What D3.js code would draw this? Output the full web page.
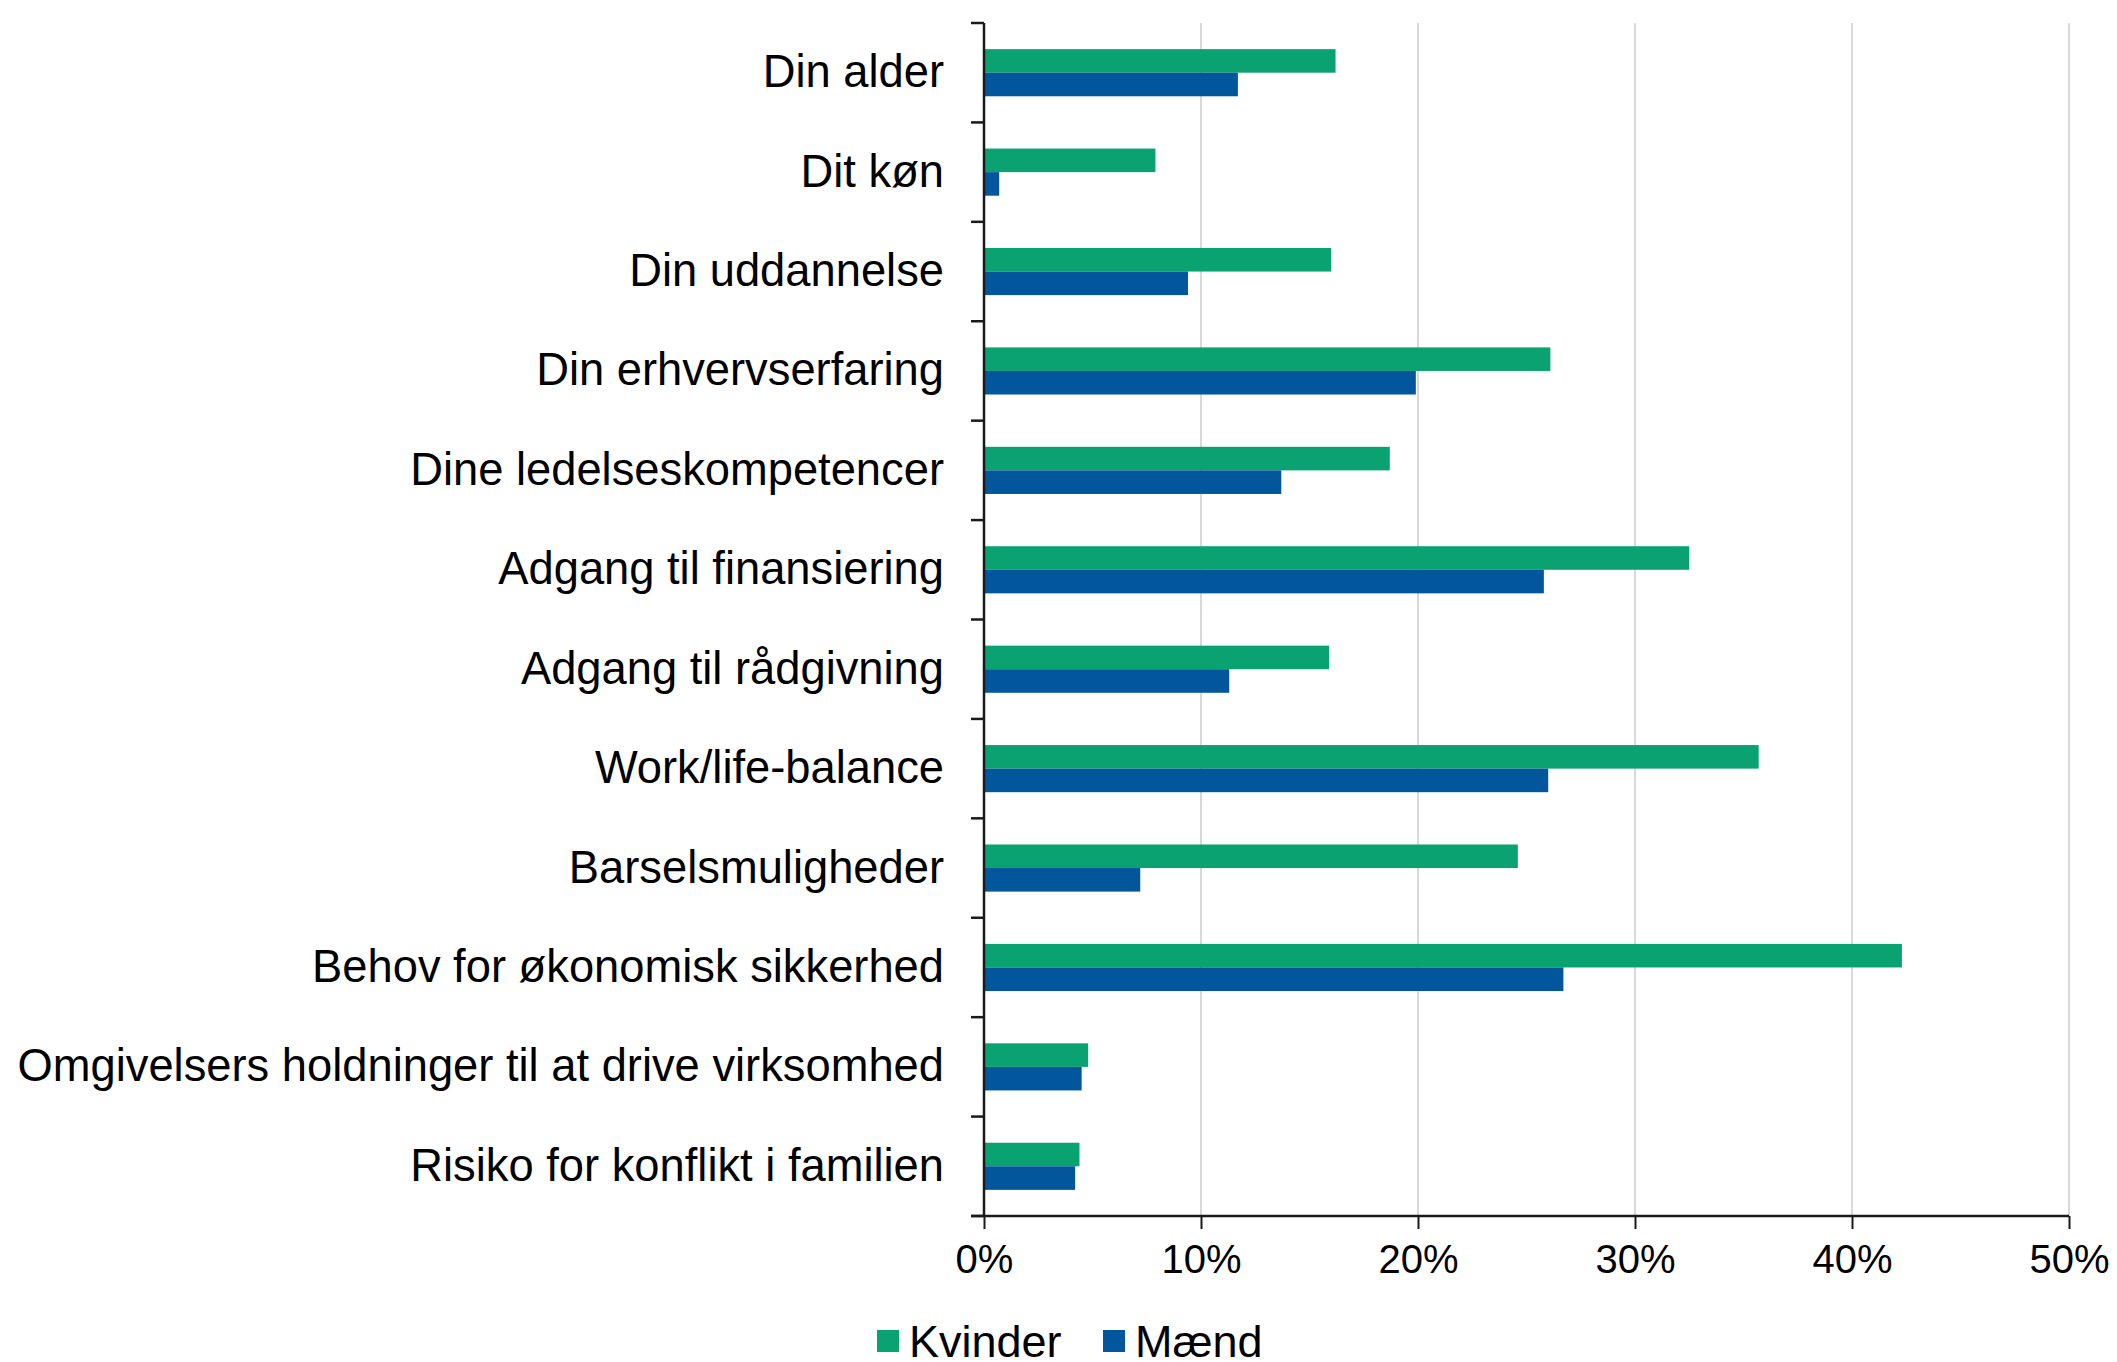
<!DOCTYPE html>
<html>
<head>
<meta charset="utf-8">
<script src="https://cdn.jsdelivr.net/npm/d3@7"></script>
<style>
  body { margin: 0; background: #fff; }
  text { font-family: "Liberation Sans", Arial, sans-serif; fill: #000; }
</style>
</head>
<body>
<div class="chart"></div>
<script>
//--数据--
var categories = [
    "Din alder",
    "Dit køn",
    "Din uddannelse",
    "Din erhvervserfaring",
    "Dine ledelseskompetencer",
    "Adgang til finansiering",
    "Adgang til rådgivning",
    "Work/life-balance",
    "Barselsmuligheder",
    "Behov for økonomisk sikkerhed",
    "Omgivelsers holdninger til at drive virksomhed",
    "Risiko for konflikt i familien"
];
var kvinder = [16.2, 7.9, 16.0, 26.1, 18.7, 32.5, 15.9, 35.7, 24.6, 42.3, 4.8, 4.4];
var maend = [11.7, 0.7, 9.4, 19.9, 13.7, 25.8, 11.3, 26.0, 7.2, 26.7, 4.5, 4.2];
var seriesNames = ["Kvinder", "Mænd"];
var seriesColors = ["#0ba271", "#02569c"];
var xTicks = [0, 10, 20, 30, 40, 50];

//--画布--
var width = 2117, height = 1362;
var margin = { left: 984, right: 48, top: 23, bottom: 146 };
var innerW = width - margin.left - margin.right;
var innerH = height - margin.top - margin.bottom;

var svg = d3.select(".chart")
    .append("svg")
    .attr("width", width)
    .attr("height", height);
var g = svg.append("g")
    .attr("transform", "translate(" + margin.left + "," + margin.top + ")");

//--比例尺--
var x = d3.scaleLinear().domain([0, 50]).range([0, innerW]);
var y = d3.scaleBand().domain(categories).range([0, innerH]).paddingInner(0).paddingOuter(0);
var barH = y.bandwidth() * 0.237;
var sub = d3.scaleBand().domain(seriesNames).range([y.bandwidth() / 2 - barH, y.bandwidth() / 2 + barH]);

//网格线
g.append("g")
    .selectAll("line")
    .data(xTicks.slice(1))
    .join("line")
    .attr("x1", d => x(d)).attr("x2", d => x(d))
    .attr("y1", 0).attr("y2", innerH)
    .attr("stroke", "#d9d9d9")
    .attr("stroke-width", 2);

//柱子
var rows = categories.map((c, i) => ({ cat: c, vals: [kvinder[i], maend[i]] }));
var groups = g.append("g")
    .selectAll("g")
    .data(rows)
    .join("g")
    .attr("transform", d => "translate(0," + y(d.cat) + ")");
groups.selectAll("rect")
    .data(d => d.vals.map((v, j) => ({ v: v, s: seriesNames[j], c: seriesColors[j] })))
    .join("rect")
    .attr("x", 0)
    .attr("y", d => sub(d.s))
    .attr("width", d => x(d.v))
    .attr("height", sub.bandwidth())
    .attr("fill", d => d.c);

//y轴
var yAxis = g.append("g")
    .call(d3.axisLeft(y).tickSize(0).tickPadding(40).tickFormat(d => d));
yAxis.select(".domain").remove();
yAxis.selectAll("text")
    .attr("font-size", 45.3)
    .style("font-family", "'Liberation Sans', Arial, sans-serif");

//y轴分隔刻度
var yTickPos = categories.map(c => y(c)).concat([innerH]);
g.append("g")
    .selectAll("line")
    .data(yTickPos)
    .join("line")
    .attr("x1", -13).attr("x2", 0)
    .attr("y1", d => d).attr("y2", d => d)
    .attr("stroke", "#1a1a1a")
    .attr("stroke-width", 2.5);
g.append("line")
    .attr("x1", 0).attr("x2", 0)
    .attr("y1", 0).attr("y2", innerH)
    .attr("stroke", "#1a1a1a")
    .attr("stroke-width", 2.5);

//x轴
var xAxis = g.append("g")
    .attr("transform", "translate(0," + innerH + ")")
    .call(d3.axisBottom(x).tickValues(xTicks).tickSize(13).tickPadding(16).tickFormat(d => d + "%"));
xAxis.select(".domain").remove();
xAxis.selectAll("line").attr("stroke", "#1a1a1a").attr("stroke-width", 2);
xAxis.selectAll("text")
    .attr("font-size", 40)
    .style("font-family", "'Liberation Sans', Arial, sans-serif");
g.append("line")
    .attr("x1", -13).attr("x2", innerW)
    .attr("y1", innerH).attr("y2", innerH)
    .attr("stroke", "#1a1a1a")
    .attr("stroke-width", 2.5);

//图例
var legendX = [877, 1103];
var legend = svg.append("g")
    .selectAll("g")
    .data(seriesNames)
    .join("g")
    .attr("transform", (d, i) => "translate(" + legendX[i] + ",1341)");
legend.append("rect")
    .attr("x", 0).attr("y", -11)
    .attr("width", 22).attr("height", 22)
    .attr("fill", (d, i) => seriesColors[i]);
legend.append("text")
    .attr("x", 32).attr("y", 0)
    .attr("dy", "0.35em")
    .attr("font-size", 45)
    .text(d => d);
</script>
</body>
</html>
